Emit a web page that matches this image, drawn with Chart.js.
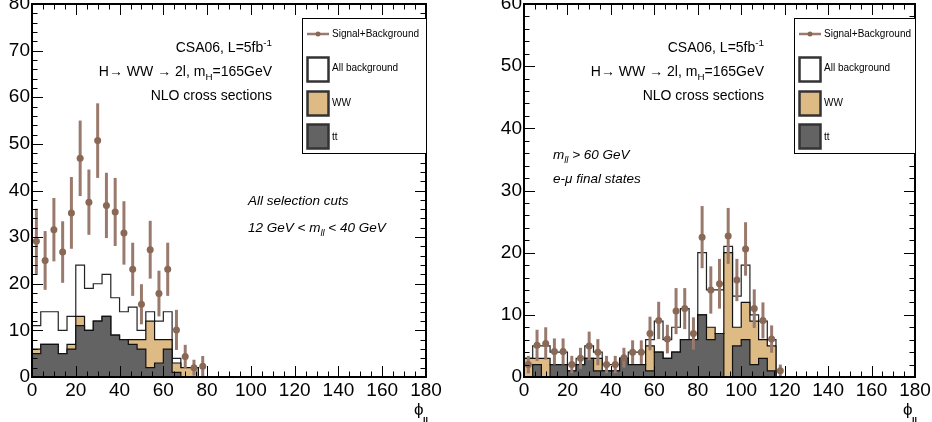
<!DOCTYPE html>
<html>
<head>
<meta charset="utf-8">
<script src="https://cdn.jsdelivr.net/npm/chart.js@4.4.0/dist/chart.umd.min.js"></script>
<style>
body { margin: 0; background: #fff; }
#wrap { position: relative; width: 932px; height: 422px; }
canvas { position: absolute; top: 0; }
</style>
</head>
<body>
<div id="wrap">
  <canvas id="left" width="466" height="422" style="left:0"></canvas>
  <canvas id="right" width="466" height="422" style="left:466px"></canvas>
</div>
<script>
const BIN = 4; // phi_ll bin width in degrees

// 12 GeV < mll < 40 GeV, all selection cuts
const sigLeft = [29.1, 25, 31.6, 26.8, 35.2, 46.9, 37.5, 50.7, 36.8, 35.4, 30.9, 23.1, 15.6, 27.3, 17.9, 23.1, 10.1, 4.4, 2.0, 2.3];
const errLeft = [7, 6.3, 6.8, 6.6, 7.7, 8.1, 7, 8, 7, 7.3, 6.8, 5.7, 4.3, 6.2, 4.9, 5.7, 4.3, 2.5, 1.7, 2.2];
const bkgLeft = [11, 14, 14, 10, 13, 24, 19, 20, 22, 17, 14, 15, 10, 14, 12, 14, 4, 2, 2];
const wwLeft  = [1, 0, 0, 0, 1, 2, 0, 0, 0, 0, 0, 1, 2, 10, 5, 2, 2, 2, 2];
const ttLeft  = [5, 7, 7, 5, 6, 11, 10, 12, 13, 9, 8, 7, 6, 2, 3, 6, 1, 0, 0];

// mll > 60 GeV, e-mu final states
const sigRight = [2.0, 5.1, 5.4, 4.1, 4.1, 2.0, 3.0, 5.0, 4.0, 2.0, 2.0, 3.1, 4.0, 4.0, 7.0, 9.1, 6.1, 10.6, 11.0, 7.0, 22.5, 14.0, 15.0, 22.7, 15.6, 20.6, 11.0, 9.1, 6.1, 1.0];
const errRight = [1.4, 2.5, 2.6, 2.1, 2.1, 1.4, 1.7, 2.3, 2.1, 1.4, 1.4, 1.6, 1.9, 1.9, 2.7, 3.0, 2.3, 3.7, 3.3, 2.6, 5.0, 3.8, 4.0, 4.5, 3.4, 4.3, 3.1, 2.9, 2.2, 1.0];
const bkgRight = [3, 5, 5, 4, 4, 2, 3, 5, 4, 2, 2, 3, 4, 4, 6, 9, 6, 8, 11, 6, 20, 14, 14, 21, 13, 18, 10, 9, 6];
const wwRight  = [3, 1, 3, 0, 0, 0, 0, 0, 2, 0, 0, 0, 0, 0, 4, 0, 0, 0, 0, 0, 0, 2, 0, 20, 3, 6, 7, 3, 4];
const ttRight  = [0, 2, 0, 2, 2, 1, 2, 3, 1, 1, 1, 3, 2, 2, 1, 4, 3, 4, 6, 6, 10, 6, 7, 0, 5, 6, 2, 3, 1];

const xRange = [0, 180];
const yMaxLeft = 80;
const yMaxRight = 60;

const TAN = '#deba84';
const DARK = '#636363';
const BROWN = '#8a6856';
const BAR = '#9a7a6c';
const FONT = '"Liberation Sans", Arial, Helvetica, sans-serif';

// step outline of a histogram, one point per left bin edge
function histLine(values, fill, line) {
    const pts = [{ x: 0, y: 0 }];
    values.forEach((v, i) => pts.push({ x: i * BIN, y: v }));
    pts.push({ x: values.length * BIN, y: values[values.length - 1] });
    pts.push({ x: values.length * BIN, y: 0 });
    return {
        type: 'line', data: pts, stepped: true, fill: 'origin',
        backgroundColor: fill, borderColor: line, borderWidth: 1.2,
        pointRadius: 0
    };
}

function stack(a, b) {
    return a.map((v, i) => v + b[i]);
}

// text with sub/superscripts; parts = [[text, 'sub'|'sup'|undefined], ...]
function richText(ctx, parts, x, y, align, size, italic) {
    const font = s => `${italic ? 'italic ' : ''}${s}px ${FONT}`;
    let w = 0;
    parts.forEach(([t, k]) => { ctx.font = font(k ? size * 0.7 : size); w += ctx.measureText(t).width; });
    let cx = align === 'right' ? x - w : x;
    parts.forEach(([t, k]) => {
        ctx.font = font(k ? size * 0.7 : size);
        const dy = k === 'sub' ? size * 0.32 : (k === 'sup' ? -size * 0.42 : 0);
        ctx.fillText(t, cx, y + dy);
        cx += ctx.measureText(t).width;
    });
}

// vertical error bars under the signal markers
const errBars = {
    id: 'errBars',
    beforeDatasetDraw(chart, args, opts) {
        if (args.index !== 0) return;
        const { ctx } = chart;
        const y = chart.scales.y;
        const vals = chart.data.datasets[0].data;
        ctx.save();
        ctx.strokeStyle = BAR;
        ctx.lineWidth = 3;
        args.meta.data.forEach((el, i) => {
            const v = vals[i].y, e = opts.errors[i];
            ctx.beginPath();
            ctx.moveTo(el.x, y.getPixelForValue(Math.min(v + e, y.max)));
            ctx.lineTo(el.x, y.getPixelForValue(Math.max(v - e, 0)));
            ctx.stroke();
        });
        ctx.restore();
    }
};

// closed frame with inward ticks on all four sides
const frameTicks = {
    id: 'frameTicks',
    afterDraw(chart) {
        const { ctx, chartArea: a } = chart;
        const x = chart.scales.x, y = chart.scales.y;
        ctx.save();
        ctx.strokeStyle = '#000';
        ctx.lineWidth = 1;
        ctx.beginPath();
        for (let v = x.min; v <= x.max; v += 5) {
            const px = Math.round(x.getPixelForValue(v)) + 0.5;
            const len = v % 20 === 0 ? 11 : 5.5;
            ctx.moveTo(px, a.bottom); ctx.lineTo(px, a.bottom - len);
            ctx.moveTo(px, a.top); ctx.lineTo(px, a.top + len);
        }
        for (let v = y.min; v <= y.max; v += 2) {
            const py = Math.round(y.getPixelForValue(v)) + 0.5;
            const len = v % 10 === 0 ? 11 : 5.5;
            ctx.moveTo(a.left, py); ctx.lineTo(a.left + len, py);
            ctx.moveTo(a.right, py); ctx.lineTo(a.right - len, py);
        }
        ctx.stroke();
        ctx.lineWidth = 2;
        ctx.strokeRect(a.left, a.top, a.right - a.left, a.bottom - a.top);

        // axis title
        ctx.fillStyle = '#000';
        ctx.textBaseline = 'alphabetic';
        ctx.font = `17px ${FONT}`;
        ctx.fillText('\u03d5', a.right - 12, a.bottom + 38);
        ctx.font = `bold 9px ${FONT}`;
        ctx.fillText('ll', a.right - 3, a.bottom + 47);
        ctx.restore();
    }
};

// legend box and text labels
const notes = {
    id: 'notes',
    afterDraw(chart, args, opts) {
        const { ctx, chartArea: a } = chart;
        const L = a.left;
        ctx.save();
        ctx.fillStyle = '#000';
        ctx.textBaseline = 'alphabetic';
        richText(ctx, [['CSA06, L=5fb'], ['-1', 'sup']], L + 240, 52, 'right', 14);
        richText(ctx, [['H\u2192 WW \u2192 2l, m'], ['H', 'sub'], ['=165GeV']], L + 240, 76, 'right', 14);
        richText(ctx, [['NLO cross sections']], L + 240, 100, 'right', 14);
        opts.lines.forEach((ln, i) => {
            richText(ctx, ln, L + opts.noteX, opts.noteY + i * opts.noteGap, 'left', 13.5, true);
        });

        // legend
        const bx = L + 270, by = 18;
        ctx.fillStyle = '#fff';
        ctx.fillRect(bx, by, a.right - bx, 135);
        ctx.strokeStyle = '#000';
        ctx.lineWidth = 1;
        ctx.strokeRect(bx + 0.5, by + 0.5, a.right - bx, 135);
        const sx = bx + 5;
        ctx.strokeStyle = BAR;
        ctx.lineWidth = 2.5;
        ctx.beginPath();
        ctx.moveTo(sx, 34); ctx.lineTo(sx + 22, 34);
        ctx.stroke();
        ctx.fillStyle = BROWN;
        ctx.beginPath();
        ctx.arc(sx + 11, 34, 2.5, 0, Math.PI * 2);
        ctx.fill();
        [['#fff', 57], [TAN, 91], [DARK, 124]].forEach(([c, top]) => {
            ctx.fillStyle = c;
            ctx.fillRect(sx, top, 21, 24);
            ctx.strokeStyle = '#333';
            ctx.strokeRect(sx + 0.5, top + 0.5, 21, 24);
        });
        ctx.fillStyle = '#000';
        ctx.textBaseline = 'middle';
        ctx.font = `10px ${FONT}`;
        ctx.fillText('Signal+Background', sx + 25, 34);
        ctx.fillText('All background', sx + 25, 68);
        ctx.fillText('WW', sx + 25, 103);
        ctx.fillText('tt', sx + 25, 137);
        ctx.restore();
    }
};

function makeChart(id, sig, err, bkg, ww, tt, yMax, axisW, padRight, notesOpts) {
    const tickFont = { size: 19, family: FONT };
    return new Chart(document.getElementById(id), {
        type: 'line',
        data: {
            datasets: [
                {
                    label: 'Signal+Background',
                    data: sig.map((v, i) => ({ x: (i + 0.5) * BIN, y: v })),
                    showLine: false, pointRadius: 3.5, pointBorderWidth: 0,
                    pointBackgroundColor: BROWN, borderColor: BROWN
                },
                Object.assign(histLine(tt, DARK, '#111'), { label: 'tt' }),
                Object.assign(histLine(stack(ww, tt), TAN, '#111'), { label: 'WW' }),
                Object.assign(histLine(bkg, '#fff', '#222'), { label: 'All background' })
            ]
        },
        options: {
            responsive: false,
            animation: false,
            layout: { padding: { left: 0, top: 4, right: padRight, bottom: 0 } },
            plugins: {
                legend: { display: false },
                tooltip: { enabled: false },
                errBars: { errors: err },
                notes: notesOpts
            },
            scales: {
                x: {
                    type: 'linear', min: xRange[0], max: xRange[1],
                    ticks: { stepSize: 20, font: tickFont, color: '#000', padding: 2, maxRotation: 0, autoSkip: false },
                    grid: { display: false, drawTicks: false },
                    border: { display: false },
                    afterFit: s => { s.height = 45; s.paddingLeft = 0; s.paddingRight = 0; }
                },
                y: {
                    min: 0, max: yMax,
                    ticks: { stepSize: 10, font: tickFont, color: '#000', padding: 2 },
                    grid: { display: false, drawTicks: false },
                    border: { display: false },
                    afterFit: s => { s.width = axisW; s.paddingTop = 0; s.paddingBottom = 0; }
                }
            }
        },
        plugins: [errBars, frameTicks, notes]
    });
}

makeChart('left', sigLeft, errLeft, bkgLeft, wwLeft, ttLeft, yMaxLeft, 32, 40, {
    noteX: 216, noteY: 205, noteGap: 27,
    lines: [
        [['All selection cuts']],
        [['12 GeV < m'], ['ll', 'sub'], [' < 40 GeV']]
    ]
});

makeChart('right', sigRight, errRight, bkgRight, wwRight, ttRight, yMaxRight, 58, 17, {
    noteX: 29, noteY: 159, noteGap: 24,
    lines: [
        [['m'], ['ll', 'sub'], [' > 60 GeV']],
        [['e-\u03bc final states']]
    ]
});
</script>
</body>
</html>
